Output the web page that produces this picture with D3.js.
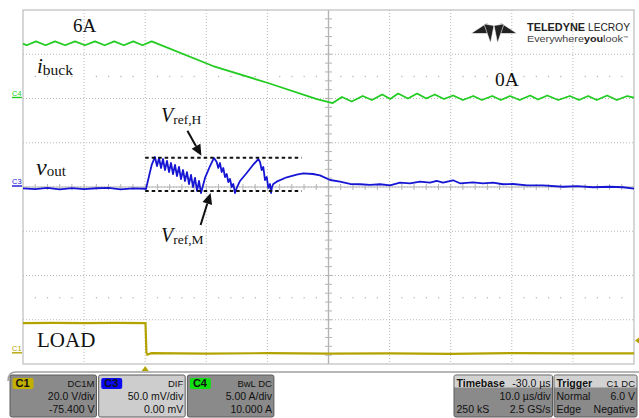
<!DOCTYPE html>
<html>
<head>
<meta charset="utf-8">
<script src="https://cdn.jsdelivr.net/npm/d3@7"></script>
<style>
  html, body { margin: 0; padding: 0; background: #fff; }
  svg { display: block; }
</style>
</head>
<body>
<svg id="scope" width="639" height="418"></svg>
<script>
// ---- Acquisition settings (time in µs) ----
const timeDomain = [-20, 80];            // 10 divisions at 10 µs/div
const c1Scale = 20, c1Offset = -75.4;     // V/div, V
const c3Scale = 50, c3Offset = 0;         // mV/div, mV
const c4Scale = 5, c4Offset = 10;         // A/div, A
const triggerLevel = 6.0;                 // V on C1

// ---- C1: load step (V) ----
const loadTrace = [
  [-20, 13.9], [-15, 14.0], [-10, 13.9], [-5, 14.0], [0.05, 13.9],
  [0.2, 0.6], [0.35, -0.4], [1, 0.3], [10, 0.1], [20, 0.3], [30, 0.1],
  [40, 0.2], [50, 0.0], [60, 0.3], [70, 0.2], [80, 0.2]
];

// ---- C3: output voltage deviation (mV) ----
const voutTrace = [
  [-20, -1.5], [-18, -2.5], [-16, -1.0], [-14, -2.8], [-12, -1.2], [-10, -2.5],
  [-8, -1.4], [-6, -1.0], [-4, -2.6], [-2, -1.6], [0, -2.0],
  [0.13, -2.3], [0.67, 13.6], [1.06, 24.9], [1.6, 33.9],
  [1.93, 23.7], [2.26, 32.8], [2.59, 21.5], [2.91, 31.6], [3.24, 19.2], [3.57, 29.4],
  [3.9, 16.9], [4.22, 27.1], [4.55, 14.7], [4.88, 24.9], [5.2, 12.4], [5.53, 22.6],
  [5.86, 9.0], [6.19, 19.2], [6.51, 6.8], [6.84, 16.9], [7.17, 3.4], [7.5, 13.6],
  [7.82, 0.0], [8.15, 10.2], [8.48, -4.5], [8.81, 6.8], [9.13, -6.8],
  [9.79, 10.2], [10.61, 23.7], [11.26, 32.8],
  [11.7, 28.2], [11.96, 21.5], [12.24, 27.1], [12.52, 16.9], [12.78, 21.5], [13.06, 11.3],
  [13.34, 14.7], [13.6, 5.6], [13.88, 9.0], [14.16, 0.0], [14.42, 3.4], [14.7, -6.8],
  [14.98, -1.1], [15.52, 6.8], [16.61, 15.8], [17.64, 24.9], [18.51, 31.6],
  [18.79, 28.2], [19.07, 19.2], [19.33, 22.6], [19.61, 7.9], [19.89, 11.3], [20.15, -1.1],
  [20.43, 3.4], [20.59, -6.8], [20.75, 0.0], [20.97, 3.4],
  [21.52, 6.0], [23.16, 11.0], [24.8, 13.9], [25.88, 15.5], [27.46, 14.7], [28.61, 13.2],
  [30.25, 7.9], [31.88, 6.0], [33.52, 3.4], [35.16, 3.1], [36.79, 2.3], [38.43, 3.1],
  [40.07, 1.9], [41.7, 4.9], [43.34, 4.2], [44.98, 6.0], [46.61, 4.9], [47.71, 6.8],
  [48.74, 4.9], [50.38, 7.6], [51.52, 4.2], [53.65, 5.3], [55.29, 4.2], [56.92, 4.9],
  [58.56, 3.1], [60.2, 3.4], [62.49, 1.9], [65.11, 1.9], [68.36, 0.3], [70.67, 1.1],
  [73.29, -0.3], [76.07, 0.3], [78.2, -0.3], [80, -1.9]
];

// ---- C4: inductor current (A) ----
const ibuckTrace = [
  [-20, 6.2], [-19.4, 6.02], [-17.87, 6.45], [-16.3, 6.02], [-14.76, 6.45], [-13.1, 6.02],
  [-11.49, 6.45], [-9.85, 6.02], [-8.22, 6.45], [-6.64, 6.02], [-5.06, 6.45], [-3.5, 6.02],
  [-1.95, 6.45], [-0.45, 6.02], [1.06, 6.45],
  [11.1, 3.67], [20.1, 1.75], [28.1, -0.06], [30.7, -0.51],
  [32.2, 0.17], [33.8, -0.34], [35.6, 0.28], [37.1, -0.17], [38.8, 0.45], [40.1, -0.06],
  [41.4, 0.56], [43.0, 0.0], [44.5, 0.56], [46.0, 0.0], [47.4, 0.45], [48.9, -0.06],
  [50.4, 0.34], [52.0, -0.17], [53.7, 0.28], [55.1, -0.17], [56.8, 0.28], [58.2, -0.17],
  [59.7, 0.28], [61.3, -0.17], [63.0, 0.34], [64.3, -0.11], [65.8, 0.34], [67.6, -0.17],
  [69.5, 0.28], [71.0, -0.17], [72.5, 0.28], [73.9, -0.17], [75.6, 0.34], [77.2, -0.17],
  [78.9, 0.28], [80, 0.11]
];

// ---- Reference thresholds (mV) and the window they are marked over (µs) ----
const vrefH = 33, vrefM = -4.5;
const vrefSpan = [0, 25.6];

// ---- Readout panel text ----
const channelInfo = [
  { id: "C1", coupling: "DC1M",   perDiv: "20.0 V/div",  offset: "-75.400 V", tab: "#c2b000", fill: "#8a8a8a" },
  { id: "C3", coupling: "DIF",    perDiv: "50.0 mV/div", offset: "0.00 mV",   tab: "#0a0af0", fill: "#cdcdcd" },
  { id: "C4", coupling: "BwL DC", perDiv: "5.00 A/div",  offset: "10.000 A",  tab: "#10e010", fill: "#8a8a8a" }
];
const timebaseInfo = { title: "Timebase", delay: "-30.0 µs", perDiv: "10.0 µs/div", points: "250 kS", rate: "2.5 GS/s" };
const triggerInfo = { title: "Trigger", source: "C1 DC", mode: "Normal", level: "6.0 V", type: "Edge", slope: "Negative" };

// ---- Colours ----
const colC1 = "#b3a300", colC3 = "#1616d4", colC4 = "#22cc22";

// ---- Layout ----
const plot = { left: 23, right: 634, top: 10, bottom: 364 };
const svg = d3.select("#scope");

const x = d3.scaleLinear().domain(timeDomain).range([plot.left, plot.right]);
function vScale(perDiv, offset) {
  return d3.scaleLinear().domain([-4 * perDiv - offset, 4 * perDiv - offset]).range([plot.bottom, plot.top]);
}
const yC1 = vScale(c1Scale, c1Offset);
const yC3 = vScale(c3Scale, c3Offset);
const yC4 = vScale(c4Scale, c4Offset);

// ---- Graticule ----
const g = svg.append("g");
const xMajor = d3.range(timeDomain[0], timeDomain[1] + 0.1, 10);
const yMajor = d3.range(-4 * c3Scale, 4 * c3Scale + 0.1, c3Scale);
const tCenter = (timeDomain[0] + timeDomain[1]) / 2;

g.selectAll(".gx").data(xMajor.slice(1, -1)).join("line")
  .attr("x1", d => x(d)).attr("x2", d => x(d))
  .attr("y1", plot.top).attr("y2", plot.bottom)
  .attr("stroke", "#b8b8b8").attr("stroke-width", 1).attr("stroke-dasharray", "1,2");
g.selectAll(".gy").data(yMajor.slice(1, -1)).join("line")
  .attr("x1", plot.left).attr("x2", plot.right)
  .attr("y1", d => yC3(d)).attr("y2", d => yC3(d))
  .attr("stroke", "#b8b8b8").attr("stroke-width", 1).attr("stroke-dasharray", "1,2");

// half-division rows of dots
const minorT = d3.range(timeDomain[0] + 2, timeDomain[1], 2).filter(t => Math.abs(t % 10) > 0.01);
[2.5 * c3Scale, -2.5 * c3Scale].forEach(v => {
  g.selectAll(null).data(minorT).join("rect")
    .attr("x", t => x(t) - 0.5).attr("y", yC3(v) - 0.5)
    .attr("width", 1.2).attr("height", 1.2).attr("fill", "#b0b0b0");
});

// centre axes with minor ticks
g.append("line").attr("x1", x(tCenter)).attr("x2", x(tCenter))
  .attr("y1", plot.top).attr("y2", plot.bottom).attr("stroke", "#b4b4b4").attr("stroke-width", 1.4);
g.append("line").attr("x1", plot.left).attr("x2", plot.right)
  .attr("y1", yC3(0)).attr("y2", yC3(0)).attr("stroke", "#b4b4b4").attr("stroke-width", 1.2);
g.selectAll(null).data(d3.range(timeDomain[0] + 2, timeDomain[1], 2)).join("line")
  .attr("x1", d => x(d)).attr("x2", d => x(d))
  .attr("y1", yC3(0) - 3).attr("y2", yC3(0) + 3).attr("stroke", "#b4b4b4").attr("stroke-width", 1);
g.selectAll(null).data(d3.range(-4 * c3Scale + 10, 4 * c3Scale, 10)).join("line")
  .attr("x1", x(tCenter) - 3.5).attr("x2", x(tCenter) + 3.5)
  .attr("y1", d => yC3(d)).attr("y2", d => yC3(d)).attr("stroke", "#b4b4b4").attr("stroke-width", 1);

// frame
g.append("rect").attr("x", plot.left).attr("y", plot.top)
  .attr("width", plot.right - plot.left).attr("height", plot.bottom - plot.top)
  .attr("fill", "none").attr("stroke", "#bdbdbd").attr("stroke-width", 1.2);

// ---- Traces ----
const traces = svg.append("g");
const lineOf = ys => d3.line().x(d => x(d[0])).y(d => ys(d[1]));
traces.append("path").datum(ibuckTrace).attr("d", lineOf(yC4))
  .attr("fill", "none").attr("stroke", colC4).attr("stroke-width", 1.8).attr("stroke-linejoin", "round");
traces.append("path").datum(loadTrace).attr("d", lineOf(yC1))
  .attr("fill", "none").attr("stroke", colC1).attr("stroke-width", 2.2);
traces.append("path").datum(voutTrace).attr("d", lineOf(yC3))
  .attr("fill", "none").attr("stroke", colC3).attr("stroke-width", 1.8).attr("stroke-linejoin", "round");

// reference thresholds
traces.selectAll(".vref").data([vrefH, vrefM]).join("line")
  .attr("x1", x(vrefSpan[0])).attr("x2", x(vrefSpan[1]))
  .attr("y1", d => yC3(d)).attr("y2", d => yC3(d))
  .attr("stroke", "#111").attr("stroke-width", 2).attr("stroke-dasharray", "3.5,3");

// ---- Channel ground markers ----
const markers = [
  { id: "C4", y: yC4(0), col: colC4 },
  { id: "C3", y: yC3(0), col: colC3 },
  { id: "C1", y: yC1(0), col: colC1 }
];
const mk = svg.append("g");
mk.selectAll("text").data(markers).join("text")
  .attr("x", 12).attr("y", d => d.y - 3).text(d => d.id)
  .attr("font-family", "Liberation Sans, Arial, sans-serif").attr("font-size", 7.5)
  .attr("fill", d => d.col);
mk.selectAll("line").data(markers).join("line")
  .attr("x1", 12).attr("x2", 22).attr("y1", d => d.y - 1).attr("y2", d => d.y - 1)
  .attr("stroke", d => d.col).attr("stroke-width", 1.4);

// trigger level and position markers
const ty = yC1(triggerLevel);
svg.append("path").attr("d", `M${plot.right + 1},${ty} L639,${ty - 3} L639,${ty + 3} Z`).attr("fill", colC1);
svg.append("path").attr("d", `M${x(0)},${plot.bottom + 2} L${x(0) - 3.5},${plot.bottom + 7} L${x(0) + 3.5},${plot.bottom + 7} Z`).attr("fill", colC1);

// ---- Annotations ----
const ann = svg.append("g").attr("font-family", "Liberation Serif, Times New Roman, serif").attr("fill", "#111");
ann.append("text").attr("x", 73).attr("y", 32).attr("font-size", 19).text("6A");
ann.append("text").attr("x", 495).attr("y", 86).attr("font-size", 19.5).text("0A");
ann.append("text").attr("x", 37).attr("y", 347).attr("font-size", 21).text("LOAD");

function subLabel(px, py, main, sub, mainSize, subSize, dy) {
  const t = ann.append("text").attr("x", px).attr("y", py);
  t.append("tspan").attr("font-style", "italic").attr("font-size", mainSize).text(main);
  t.append("tspan").attr("font-size", subSize).attr("dy", dy).text(sub);
}
subLabel(37, 73, "i", "buck", 21, 15.5, 2);
subLabel(36, 175, "v", "out", 24, 15, 1);
subLabel(161, 122, "V", "ref,H", 20, 13.5, 1.5);
subLabel(161, 242, "V", "ref,M", 20, 13.5, 1.5);

function arrow(x1, y1, x2, y2) {
  const a = Math.atan2(y2 - y1, x2 - x1), L = 11, W = 5;
  const bx = x2 - L * Math.cos(a), by = y2 - L * Math.sin(a);
  ann.append("line").attr("x1", x1).attr("y1", y1).attr("x2", bx).attr("y2", by)
    .attr("stroke", "#111").attr("stroke-width", 2);
  ann.append("path").attr("d",
    `M${x2},${y2} L${bx + W * Math.sin(a)},${by - W * Math.cos(a)} L${bx - W * Math.sin(a)},${by + W * Math.cos(a)} Z`)
    .attr("fill", "#111");
}
arrow(x(9.2) - 14, yC3(vrefH) - 27, x(9.2), yC3(vrefH) - 2);
arrow(x(10.7) - 10, yC3(vrefM) + 34, x(10.7), yC3(vrefM) + 2);

// ---- Logo ----
const logo = svg.append("g").attr("fill", "#222").attr("stroke", "#fff").attr("stroke-width", 0.6);
[
  "M471,33.5 L487,23 L492,33.5 Z",
  "M517,33.5 L501,23 L496,33.5 Z",
  "M484,24 L494,25.5 L490.5,43 Z",
  "M504,24 L494,25.5 L497.5,43 Z"
].forEach(d => logo.append("path").attr("d", d));
const lt = svg.append("g").attr("font-family", "Liberation Sans, Arial, sans-serif");
lt.append("text").attr("x", 527).attr("y", 31).attr("font-size", 11).attr("font-weight", "bold")
  .attr("fill", "#222").attr("textLength", 58).attr("lengthAdjust", "spacingAndGlyphs").text("TELEDYNE");
lt.append("text").attr("x", 588).attr("y", 31).attr("font-size", 11)
  .attr("fill", "#222").attr("textLength", 42).attr("lengthAdjust", "spacingAndGlyphs").text("LECROY");
const ew = lt.append("text").attr("x", 527).attr("y", 42).attr("font-size", 9.5).attr("fill", "#444")
  .attr("textLength", 101).attr("lengthAdjust", "spacingAndGlyphs");
ew.append("tspan").text("Everywhere");
ew.append("tspan").attr("font-weight", "bold").attr("fill", "#222").text("you");
ew.append("tspan").text("look");
ew.append("tspan").attr("font-size", 4.5).attr("dy", -3.5).text("™");

// ---- Readout panel ----
const panel = svg.append("g").attr("font-family", "Liberation Sans, Arial, sans-serif").attr("font-size", 10.5).attr("fill", "#111");
panel.append("path").attr("d", "M8,381 Q8,372 16,372 L639,372")
  .attr("fill", "none").attr("stroke", "#a0a0a0").attr("stroke-width", 1.5);

const boxY = 375, boxH = 42, rowY = [387, 399.5, 413];
channelInfo.forEach((c, i) => {
  const bx = 10 + i * 88.7, bw = 86.5;
  panel.append("rect").attr("x", bx).attr("y", boxY).attr("width", bw).attr("height", boxH)
    .attr("rx", 2).attr("fill", c.fill).attr("stroke", "#5a5a5a").attr("stroke-width", 1);
  panel.append("rect").attr("x", bx + 2.5).attr("y", boxY + 3).attr("width", 21).attr("height", 11)
    .attr("rx", 2).attr("fill", c.tab);
  panel.append("text").attr("x", bx + 5.5).attr("y", rowY[0]).attr("font-weight", "bold").attr("font-size", 11).text(c.id);
  const rx = bx + bw - 2;
  panel.append("text").attr("x", rx).attr("y", rowY[0]).attr("text-anchor", "end").attr("font-size", 9.5).text(c.coupling);
  panel.append("text").attr("x", rx).attr("y", rowY[1]).attr("text-anchor", "end").text(c.perDiv);
  panel.append("text").attr("x", rx).attr("y", rowY[2]).attr("text-anchor", "end").text(c.offset);
});

function infoBox(bx, bw, titleFill, rows) {
  panel.append("rect").attr("x", bx).attr("y", boxY).attr("width", bw).attr("height", boxH)
    .attr("rx", 2).attr("fill", "#8a8a8a").attr("stroke", "#5a5a5a").attr("stroke-width", 1);
  panel.append("rect").attr("x", bx + 0.5).attr("y", boxY + 0.5).attr("width", bw - 1).attr("height", 12)
    .attr("fill", titleFill);
  rows.forEach((r, k) => {
    if (r[0]) panel.append("text").attr("x", bx + 2.5).attr("y", rowY[k])
      .attr("font-weight", k === 0 ? "bold" : null).text(r[0]);
    if (r[1]) panel.append("text").attr("x", bx + bw - 2).attr("y", rowY[k]).attr("text-anchor", "end")
      .attr("font-size", k === 0 && bx > 550 ? 9.5 : 10.5).text(r[1]);
  });
}
infoBox(454, 98.5, "#d2d2d2", [
  [timebaseInfo.title, timebaseInfo.delay], [null, timebaseInfo.perDiv], [timebaseInfo.points, timebaseInfo.rate]
]);
infoBox(554, 83, "#d2d2d2", [
  [triggerInfo.title, triggerInfo.source], [triggerInfo.mode, triggerInfo.level], [triggerInfo.type, triggerInfo.slope]
]);
</script>
</body>
</html>
